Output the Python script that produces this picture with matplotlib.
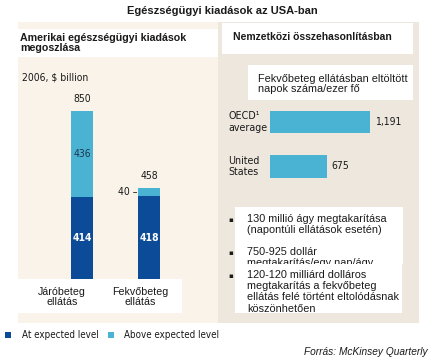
"""Egészségügyi kiadások az USA-ban - infographic recreation."""

import matplotlib

matplotlib.use("Agg")
import matplotlib.pyplot as plt
from matplotlib import font_manager
from matplotlib.patches import Rectangle

# --- data -------------------------------------------------------------
categories = ["Járóbeteg\nellátás", "Fekvőbeteg\nellátás"]
at_expected = [414, 418]
above_expected = [436, 40]
totals = [850, 458]

countries = ["OECD\u00b9\naverage", "United\nStates"]
bed_days = [1191, 675]
bed_day_labels = ["1,191", "675"]

bullets = [
    "130 millió ágy megtakarítása\n(napontúli ellátások esetén)",
    "750-925 dollár\nmegtakarítás/egy nap/ágy",
    "120-120 milliárd dolláros\nmegtakarítás a fekvőbeteg\n"
    "ellátás felé történt eltolódásnak\nköszönhetően",
]

# --- style ------------------------------------------------------------
W, H = 440, 361
PT = 72 / 100  # points per pixel at dpi 100
DARK = "#0c4b98"
LIGHT = "#4ab3d3"
BG_LEFT = "#faf3ea"
BG_RIGHT = "#eee7de"
TXT = "#1a1a1a"

try:
    font_manager.findfont("Liberation Sans Narrow", fallback_to_default=False)
    NARROW = dict(family="Liberation Sans Narrow")
except ValueError:
    NARROW = dict(family="DejaVu Sans", fontstretch="condensed")
SANS = dict(family=["Liberation Sans", "DejaVu Sans"])


def fx(x):
    return x / W


def fy(y):
    return 1 - y / H


def box(fig, x0, y0, x1, y1, color, z=0):
    fig.patches.append(Rectangle((fx(x0), fy(y1)), (x1 - x0) / W, (y1 - y0) / H,
                                 transform=fig.transFigure, facecolor=color,
                                 edgecolor="none", zorder=z))


def text(fig, x, y, s, z=3, **kw):
    kw.setdefault("color", TXT)
    fig.text(fx(x), fy(y), s, zorder=z, **kw)


fig = plt.figure(figsize=(W / 100, H / 100), dpi=100)
fig.patch.set_facecolor("white")

# panels
box(fig, 18, 22, 218, 323, BG_LEFT)
box(fig, 218, 22, 419, 323, BG_RIGHT)
box(fig, 18, 29, 218, 57, "white", 1)
box(fig, 222, 23, 413, 54, "white", 1)
box(fig, 248, 65, 413, 100, "white", 1)
box(fig, 18, 279, 182, 313, "white", 1)
box(fig, 235, 207, 403, 264, "white", 1)
box(fig, 235, 264, 402, 313, "white", 4)

text(fig, 222, 11, "Egészségügyi kiadások az USA-ban", ha="center", va="center",
     fontsize=8, fontweight="bold", **SANS)
text(fig, 20, 43, "Amerikai egészségügyi kiadások\nmegoszlása", ha="left",
     va="center", fontsize=7.7, fontweight="bold", linespacing=1.05, **SANS)
text(fig, 233, 37, "Nemzetközi összehasonlításban", ha="left", va="center",
     fontsize=7.5, fontweight="bold", **SANS)
text(fig, 22, 77, "2006, $ billion", ha="left", va="center", fontsize=7.5, **NARROW)
text(fig, 258, 84, "Fekvőbeteg ellátásban eltöltött\nnapok száma/ezer fő",
     ha="left", va="center", fontsize=7.8, linespacing=1.1, **SANS)

# --- stacked bars -----------------------------------------------------
ax = fig.add_axes([fx(40), fy(279), 150 / W, 179 / H])
ax.set_zorder(2)
xs = range(len(categories))
ax.bar(xs, at_expected, width=0.32, color=DARK, zorder=2)
ax.bar(xs, above_expected, bottom=at_expected, width=0.32, color=LIGHT, zorder=2)
ax.set_xlim(-0.627, 1.612)
ax.set_ylim(0, 904)
ax.axis("off")
for i, (a, b, t) in enumerate(zip(at_expected, above_expected, totals)):
    ax.text(i, a / 2, str(a), ha="center", va="center", color="white",
            fontsize=7.5, fontweight="bold", **NARROW)
    ax.annotate(str(t), (i, t), xytext=(0, 5), textcoords="offset points",
                ha="center", va="bottom", fontsize=7.5, color=TXT, **NARROW)
    if b > 100:
        ax.text(i, a + b / 2, str(b), ha="center", va="center", color="#1f3550",
                fontsize=7.5, **NARROW)
    else:
        ax.annotate(f"{b} \u2013", (i - 0.16, a + b / 2), xytext=(-1, 0),
                    textcoords="offset points", ha="right", va="center",
                    fontsize=7.5, color=TXT, **NARROW)
for i, (name, shift) in enumerate(zip(categories, [-0.3, -0.13])):
    ax.annotate(name, (i + shift, 0), xytext=(0, -8 * PT),
                textcoords="offset points", ha="center", va="top",
                fontsize=7.7, linespacing=1.0, color=TXT,
                annotation_clip=False, zorder=3, **SANS)

# --- horizontal bars --------------------------------------------------
ax2 = fig.add_axes([fx(270), fy(185), 130 / W, 80 / H])
ax2.set_zorder(2)
ys = range(len(countries))
ax2.barh(ys, bed_days, height=0.5, color=LIGHT)
ax2.set_xlim(0, 1548)
ax2.set_ylim(1.416, -0.382)
ax2.axis("off")
for i, (name, v, lab) in enumerate(zip(countries, bed_days, bed_day_labels)):
    ax2.annotate(lab, (v, i), xytext=(5 * PT, 0), textcoords="offset points",
                 ha="left", va="center", fontsize=7.5, color=TXT, **NARROW)
    ax2.annotate(name, (0, i), xytext=(-42 * PT, 0), textcoords="offset points",
                 ha="left", va="center", fontsize=7.7, linespacing=1.15,
                 color=TXT, annotation_clip=False, **NARROW)

# --- bullet notes -----------------------------------------------------
for s, y, z in zip(bullets, [219, 252, 275], [2, 2, 5]):
    text(fig, 231, y + 1, "\u25aa", ha="center", va="center", fontsize=5, z=z,
         family="DejaVu Sans")
    text(fig, 247, y - 5, s, ha="left", va="top", fontsize=7.8, z=z,
         linespacing=1.15, **SANS)

# --- legend and source ------------------------------------------------
box(fig, 5, 332, 11, 338, DARK)
text(fig, 22, 335, "At expected level", ha="left", va="center", fontsize=7, **NARROW)
box(fig, 108, 332, 114, 338, LIGHT)
text(fig, 124, 335, "Above expected level", ha="left", va="center", fontsize=7,
     **NARROW)
text(fig, 428, 352, "Forrás: McKinsey Quarterly", ha="right", va="center",
     fontsize=7.3, style="italic", **SANS)

fig.savefig("out.png", dpi=100, facecolor="white")
